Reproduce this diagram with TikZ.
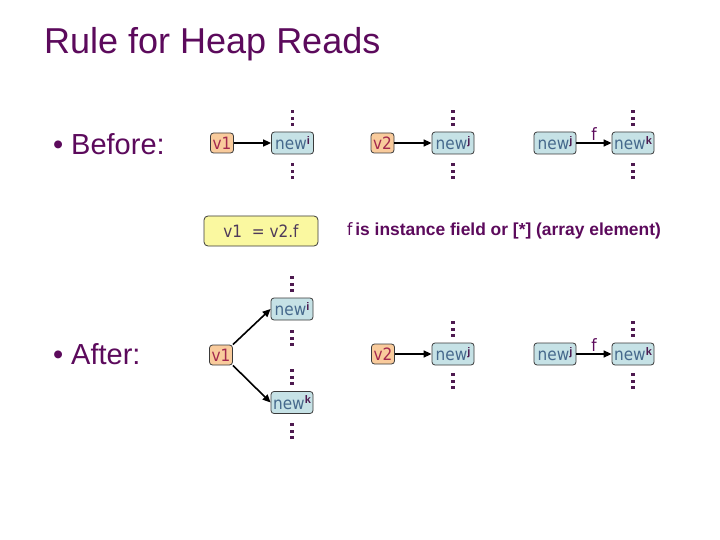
\documentclass[tikz,border=0pt]{standalone}
\usepackage{fontspec}
\setmainfont{Liberation Sans}
\newfontfamily\boxfont{DejaVu Sans Condensed}
\usetikzlibrary{arrows.meta}
\definecolor{ttl}{HTML}{5C0A5C}
\definecolor{orangefill}{HTML}{F9CB9C}
\definecolor{bluefill}{HTML}{C6E2E6}
\definecolor{yellowfill}{HTML}{FAF8A0}
\definecolor{vartext}{HTML}{A3284E}
\definecolor{newtext}{HTML}{46698C}
\definecolor{dotc}{HTML}{4E1A50}
\definecolor{boxline}{HTML}{3A3A3A}
\definecolor{stmttext}{HTML}{4E3A5A}
\newcommand\hsup[1]{\raisebox{0.6ex}{\fontsize{11}{11}\selectfont\rmfamily\bfseries\color{dotc}#1}}
\tikzset{
  varbox/.style={draw=boxline, line width=0.8pt, rounded corners=3pt, fill=orangefill,
    text=vartext, font=\boxfont\fontsize{17}{17}\selectfont, inner sep=1pt,
    minimum height=20pt, minimum width=23pt},
  objbox/.style={draw=boxline, line width=0.8pt, rounded corners=3pt, fill=bluefill,
    text=newtext, font=\boxfont\fontsize{17}{17}\selectfont, inner sep=1pt,
    minimum height=22pt, minimum width=42pt},
  stmtbox/.style={draw=boxline, line width=0.8pt, rounded corners=4pt, fill=yellowfill,
    text=stmttext, font=\boxfont\fontsize{17}{17}\selectfont,
    minimum height=30pt, minimum width=114pt},
  ptr/.style={-{Triangle[length=8pt,width=7pt]}, line width=1.6pt, black},
  flbl/.style={text=ttl, font=\boxfont\fontsize{17}{17}\selectfont, inner sep=1pt},
  heading/.style={text=ttl, font=\fontsize{36}{36}\selectfont, inner sep=0pt, anchor=base west},
  bullettext/.style={text=ttl, font=\fontsize{29}{29}\selectfont, inner sep=0pt, anchor=base west},
  dotcol/.pic={\foreach \k in {0,1,2} \fill[dotc] (-1.6,\k*6.6) rectangle ++(3.2,3.2);}
}
\begin{document}
\begin{tikzpicture}[x=1pt, y=-1pt]
\useasboundingbox (0,0) rectangle (720,540);
\fill[white] (0,0) rectangle (720,540);

\node[heading] (title) at (44,54) {Rule for Heap Reads};

% Before
\node[bullettext] (bul1) at (53,155) {•};
\node[bullettext] (before) at (71,155) {Before:};

\node[varbox] (v1a) at (222,143) {v1};
\node[objbox] (newia) at (292.5,143) {new\hsup{i}};
\node[varbox] (v2a) at (382.5,143) {v2};
\node[objbox] (newja) at (453,143) {new\hsup{j}};
\node[objbox] (newjb) at (555,143) {new\hsup{j}};
\node[objbox] (newka) at (633,143) {new\hsup{k}};

\draw[ptr] (v1a) -- (newia);
\draw[ptr] (v2a) -- (newja);
\draw[ptr] (newjb) -- node[flbl, above=1pt] (fa) {f} (newka);

\pic at (292.5,110) {dotcol};
\pic at (292.5,163) {dotcol};
\pic at (453,110) {dotcol};
\pic at (453,163) {dotcol};
\pic at (633,110) {dotcol};
\pic at (633,163) {dotcol};

\node[stmtbox] (stmt) at (261,231) {v1 \ = v2.f};
\node[anchor=west, inner sep=0pt, text=ttl] (desc) at (347,231)
  {{\boxfont\fontsize{17}{17}\selectfont f} {\fontsize{17.4}{17.4}\selectfont\bfseries is instance field or [*] (array element)}};

% After
\node[bullettext] (bul2) at (53,364) {•};
\node[bullettext] (after) at (71,364) {After:};

\node[varbox] (v1b) at (221,355) {v1};
\node[objbox] (newib) at (292,309) {new\hsup{i}};
\node[objbox] (newkb) at (292,402.5) {new\hsup{k}};
\node[varbox] (v2b) at (383,354) {v2};
\node[objbox] (newjc) at (453,354) {new\hsup{j}};
\node[objbox] (newjd) at (555,354) {new\hsup{j}};
\node[objbox] (newkc) at (633,354) {new\hsup{k}};

\draw[ptr] (v1b.north east) -- (newib.west);
\draw[ptr] (v1b.south east) -- (newkb.west);
\draw[ptr] (v2b) -- (newjc);
\draw[ptr] (newjd) -- node[flbl, above=1pt] (fb) {f} (newkc);

\pic at (292,276) {dotcol};
\pic at (292,330) {dotcol};
\pic at (292,369) {dotcol};
\pic at (292,423) {dotcol};
\pic at (453,321) {dotcol};
\pic at (453,373) {dotcol};
\pic at (633,321) {dotcol};
\pic at (633,373) {dotcol};
\end{tikzpicture}
\end{document}
